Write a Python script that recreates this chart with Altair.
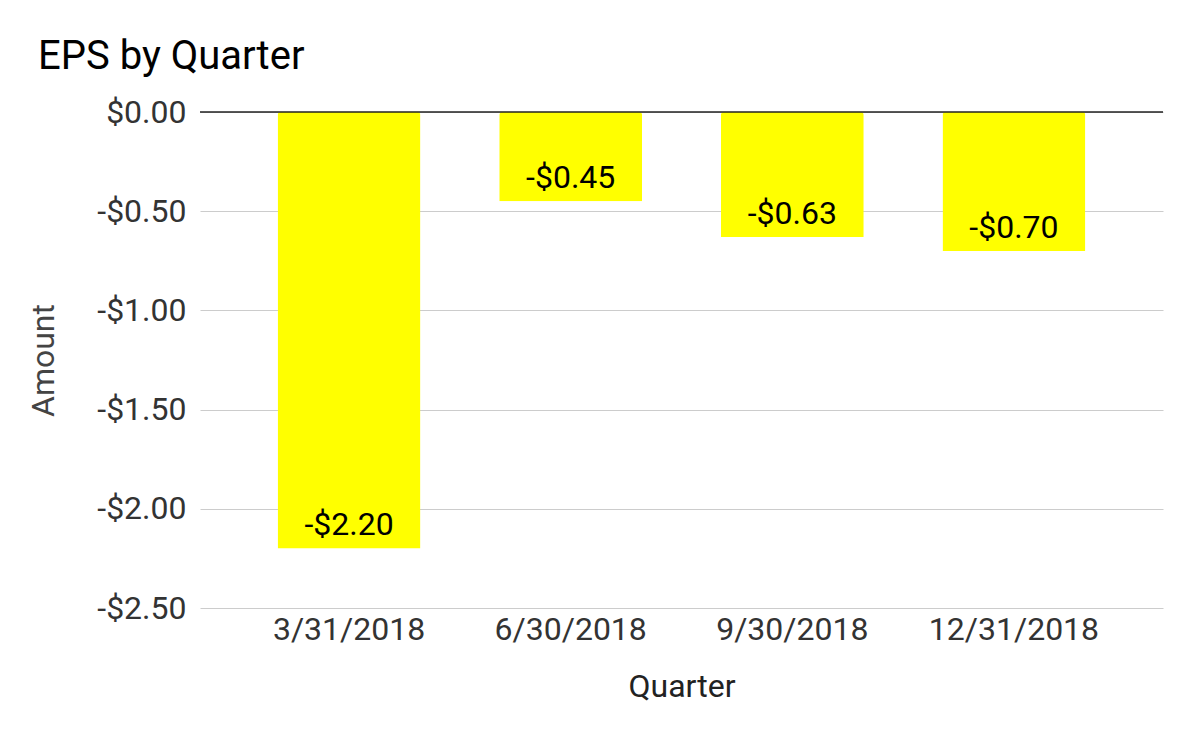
import altair as alt
import pandas as pd

quarters = ["3/31/2018", "6/30/2018", "9/30/2018", "12/31/2018"]
eps = [-2.20, -0.45, -0.63, -0.70]
y_ticks = [0.0, -0.5, -1.0, -1.5, -2.0, -2.5]

df = pd.DataFrame({"Quarter": quarters, "Amount": eps})
FONT = "Roboto"
fmt = "datum.value < 0 ? '-$' + format(-datum.value, '.2f') : '$' + format(datum.value, '.2f')"

base = alt.Chart(df)

bars = base.mark_bar(color="#ffff00", cornerRadiusEnd=3).encode(
    x=alt.X("Quarter:N", sort=quarters,
            scale=alt.Scale(paddingInner=0.355, paddingOuter=0.35),
            axis=alt.Axis(title="Quarter", labelAngle=0, labelFont=FONT, labelFontSize=32,
                          labelColor="#333333", titleFont=FONT, titleFontSize=32,
                          titleFontWeight="normal", titleColor="#222222", ticks=False,
                          domain=False, labelPadding=6, titlePadding=26)),
    y=alt.Y("Amount:Q", scale=alt.Scale(domain=[-2.5, 0], nice=False, zero=True),
            axis=alt.Axis(title="Amount", values=y_ticks, labelExpr=fmt, labelFont=FONT,
                          labelFontSize=32, labelColor="#333333", titleFont=FONT,
                          titleFontSize=32, titleFontWeight="normal", titleColor="#444444",
                          ticks=False, domain=False, gridColor="#cccccc", labelPadding=14,
                          titlePadding=36)),
)

labels = base.transform_calculate(
    lbl="datum.Amount < 0 ? '-$' + format(-datum.Amount, '.2f') : '$' + format(datum.Amount, '.2f')"
).mark_text(font=FONT, fontSize=32, color="#000000", baseline="middle", dy=-23).encode(
    x=alt.X("Quarter:N", sort=quarters),
    y="Amount:Q",
    text="lbl:N",
)

zero = alt.Chart(pd.DataFrame({"z": [0]})).mark_rule(color="#222222", strokeWidth=1.5).encode(y="z:Q")

chart = alt.layer(bars, labels, zero).properties(
    width=963, height=496,
    title=alt.Title("EPS by Quarter", anchor="start", frame="group", font=FONT, fontSize=40,
                    fontWeight="normal", color="#000000", dx=-162, offset=19),
    autosize=alt.AutoSizeParams(type="none"),
    padding={"left": 192, "top": 104, "right": 21, "bottom": 126},
).configure(background="white").configure_view(stroke=None)

chart.save("out.html", embed_options={"renderer": "svg", "actions": False})
